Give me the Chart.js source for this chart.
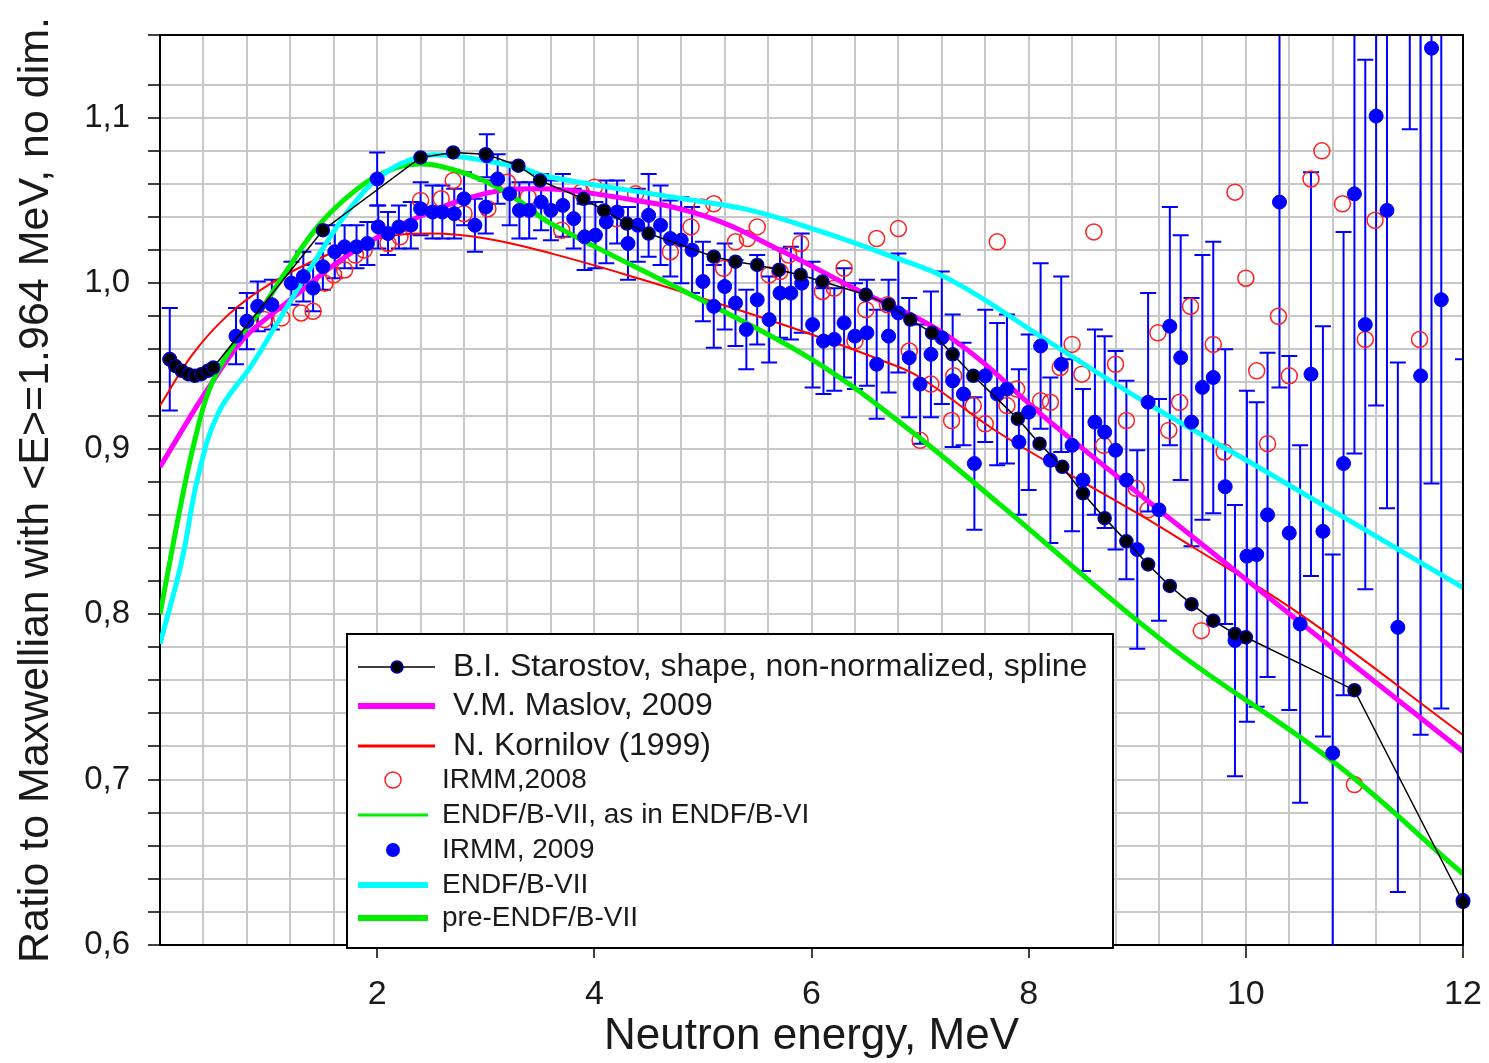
<!DOCTYPE html>
<html>
<head>
<meta charset="utf-8">
<title>Ratio to Maxwellian</title>
<script src="https://cdn.jsdelivr.net/npm/chart.js@4.4.1/dist/chart.umd.min.js"></script>
<style>
  html, body { margin: 0; padding: 0; background: #fff; }
  #chart { display: block; }
</style>
</head>
<body>
<canvas id="chart" width="1489" height="1063"></canvas>
<script>
// B.I. Starostov (black dots joined by a thin line)
const starostovE = [0.09, 0.14, 0.20, 0.26, 0.32, 0.38, 0.44, 0.49, 1.50, 2.40, 2.70, 3.00, 3.30, 3.50, 3.90, 4.09, 4.30, 4.50,
  5.10, 5.30, 5.50, 5.70, 5.90, 6.10, 6.50, 6.71, 6.91, 7.11, 7.30, 7.49, 7.90, 8.10, 8.31, 8.50, 8.70, 8.90, 9.10, 9.30,
  9.50, 9.70, 9.90, 10.00, 11.00, 12.00];
const starostovR = [0.954, 0.950, 0.947, 0.945, 0.944, 0.945, 0.947, 0.949, 1.032, 1.076, 1.079, 1.078, 1.071, 1.062, 1.051, 1.044, 1.036, 1.030,
  1.016, 1.013, 1.011, 1.008, 1.005, 1.001, 0.993, 0.987, 0.978, 0.970, 0.957, 0.944, 0.918, 0.903, 0.889, 0.873, 0.858, 0.844, 0.830, 0.817,
  0.806, 0.796, 0.788, 0.786, 0.754, 0.626];

// V.M. Maslov, 2009
const maslovE = [0, 0.4, 0.69, 0.84, 1.2, 1.6, 1.88, 2.31, 2.98, 3.5, 4.2, 5.0, 5.74, 6.36, 7.28, 8.2, 9.2, 10.5, 12];
const maslovR = [0.889, 0.932, 0.960, 0.971, 0.990, 1.011, 1.023, 1.038, 1.054, 1.057, 1.052, 1.041, 1.019, 0.998, 0.967, 0.916, 0.863, 0.795, 0.717];

// N. Kornilov (1999)
const kornilovE = [0, 0.3, 0.63, 1.0, 1.5, 2.0, 2.5, 3.0, 3.6, 4.4, 5.13, 6.0, 6.66, 7.0, 7.74, 9.0, 9.5, 10.5, 12];
const kornilovR = [0.926, 0.957, 0.981, 0.999, 1.016, 1.027, 1.030, 1.027, 1.018, 1.003, 0.988, 0.969, 0.953, 0.943, 0.909, 0.861, 0.841, 0.800, 0.727];

// IRMM, 2008 (open circles)
const irmm2008E = [0.96, 1.12, 1.30, 1.41, 1.52, 1.60, 1.70, 1.80, 1.88, 2.10, 2.21, 2.40, 2.59, 2.70, 2.80, 3.02, 3.20, 3.39, 3.70, 3.88,
  4.00, 4.20, 4.38, 4.70, 4.89, 4.99, 5.10, 5.19, 5.30, 5.41, 5.50, 5.61, 5.71, 5.79, 5.90, 6.10, 6.21, 6.30, 6.40, 6.50,
  6.60, 6.70, 6.80, 6.90, 7.00, 7.10, 7.29, 7.31, 7.49, 7.60, 7.71, 7.80, 7.89, 8.11, 8.20, 8.29, 8.40, 8.49, 8.60, 8.69,
  8.80, 8.90, 8.99, 9.10, 9.19, 9.29, 9.39, 9.49, 9.59, 9.70, 9.80, 9.90, 10.00, 10.10, 10.20, 10.30, 10.40, 10.60, 10.70, 10.89,
  11.00, 11.10, 11.19, 11.60];
const irmm2008R = [0.978, 0.979, 0.982, 0.983, 1.000, 1.005, 1.008, 1.017, 1.020, 1.024, 1.028, 1.050, 1.051, 1.062, 1.042, 1.045, 1.061, 1.052, 1.032, 1.055,
  1.058, 1.039, 1.054, 1.019, 1.034, 1.046, 1.048, 1.009, 1.025, 1.027, 1.034, 1.005, 1.007, 1.017, 1.024, 0.995, 0.997, 1.009, 0.965, 0.984,
  1.027, 0.987, 1.033, 0.959, 0.905, 0.939, 0.917, 0.944, 0.926, 0.915, 1.025, 0.926, 0.936, 0.929, 0.928, 0.949, 0.963, 0.945, 1.031, 0.902,
  0.951, 0.917, 0.876, 0.863, 0.970, 0.911, 0.928, 0.986, 0.790, 0.963, 0.898, 1.055, 1.003, 0.947, 0.903, 0.980, 0.944, 1.063, 1.080, 1.048,
  0.697, 0.966, 1.038, 0.966];

// ENDF/B-VII, as in ENDF/B-VI (thin green, lies under the thick green curve)
const endf6E = [0, 0.2, 0.32, 0.45, 0.63, 0.93, 1.15, 1.45, 1.76, 2.07, 2.38, 2.68, 2.98, 3.3, 3.6, 5.13, 6.05, 6.91, 7.74, 9.27, 10.8, 12];
const endf6R = [0.800, 0.869, 0.905, 0.935, 0.958, 0.984, 1.006, 1.034, 1.054, 1.067, 1.072, 1.069, 1.062, 1.050, 1.036, 0.985, 0.952, 0.911, 0.866, 0.782, 0.711, 0.643];

// IRMM, 2009 (filled dots with error bars)
const irmm2009E = [0.09, 0.70, 0.80, 0.90, 1.03, 1.21, 1.32, 1.41, 1.50, 1.61, 1.70, 1.81, 1.91, 2.00, 2.01, 2.10, 2.20, 2.31, 2.40, 2.51,
  2.60, 2.71, 2.80, 2.90, 3.00, 3.01, 3.11, 3.22, 3.31, 3.40, 3.51, 3.60, 3.71, 3.81, 3.91, 4.01, 4.11, 4.21, 4.31, 4.40,
  4.50, 4.61, 4.70, 4.80, 4.90, 5.00, 5.10, 5.20, 5.30, 5.40, 5.50, 5.61, 5.71, 5.81, 5.91, 6.01, 6.11, 6.21, 6.30, 6.40,
  6.51, 6.60, 6.71, 6.80, 6.90, 7.00, 7.10, 7.20, 7.30, 7.40, 7.50, 7.60, 7.71, 7.80, 7.91, 8.00, 8.11, 8.20, 8.30, 8.40,
  8.50, 8.61, 8.70, 8.80, 8.90, 9.00, 9.10, 9.20, 9.30, 9.40, 9.50, 9.60, 9.70, 9.81, 9.90, 10.01, 10.10, 10.20, 10.31, 10.40,
  10.50, 10.60, 10.71, 10.80, 10.90, 11.00, 11.10, 11.20, 11.30, 11.40, 11.51, 11.61, 11.71, 11.80, 12.00];
const irmm2009R = [0.954, 0.968, 0.977, 0.986, 0.987, 1.000, 1.004, 0.997, 1.010, 1.019, 1.022, 1.022, 1.024, 1.063, 1.034, 1.030, 1.034, 1.035, 1.045, 1.043,
  1.043, 1.042, 1.051, 1.035, 1.046, 1.077, 1.063, 1.054, 1.044, 1.044, 1.049, 1.044, 1.047, 1.039, 1.028, 1.029, 1.037, 1.043, 1.024, 1.035,
  1.041, 1.035, 1.027, 1.026, 1.020, 1.001, 0.986, 0.998, 0.988, 0.972, 0.990, 0.978, 0.994, 0.994, 1.000, 0.975, 0.965, 0.966, 0.976, 0.968,
  0.970, 0.951, 0.968, 0.982, 0.955, 0.939, 0.957, 0.967, 0.941, 0.933, 0.891, 0.944, 0.933, 0.936, 0.904, 0.922, 0.962, 0.893, 0.951, 0.902,
  0.881, 0.916, 0.910, 0.899, 0.881, 0.839, 0.928, 0.863, 0.974, 0.955, 0.916, 0.937, 0.943, 0.877, 0.784, 0.835, 0.836, 0.860, 1.049, 0.849,
  0.794, 0.945, 0.850, 0.716, 0.891, 1.054, 0.975, 1.101, 1.044, 0.792, 1.260, 0.944, 1.142, 0.990, 0.627];
const irmm2009Err = [0.031, 0.017, 0.017, 0.015, 0.015, 0.013, 0.015, 0.014, 0.014, 0.016, 0.013, 0.013, 0.013, 0.016, 0.013, 0.013, 0.013, 0.014, 0.016, 0.016,
  0.016, 0.015, 0.016, 0.016, 0.016, 0.013, 0.015, 0.019, 0.017, 0.017, 0.017, 0.018, 0.019, 0.018, 0.020, 0.020, 0.025, 0.019, 0.022, 0.022,
  0.025, 0.024, 0.023, 0.026, 0.026, 0.024, 0.025, 0.026, 0.026, 0.024, 0.027, 0.026, 0.027, 0.028, 0.030, 0.038, 0.032, 0.031, 0.033, 0.032,
  0.032, 0.033, 0.034, 0.036, 0.036, 0.036, 0.038, 0.040, 0.040, 0.031, 0.040, 0.040, 0.043, 0.045, 0.044, 0.047, 0.050, 0.050, 0.053, 0.052,
  0.055, 0.056, 0.058, 0.060, 0.060, 0.060, 0.066, 0.067, 0.072, 0.074, 0.075, 0.080, 0.082, 0.083, 0.082, 0.100, 0.092, 0.098, 0.112, 0.107,
  0.108, 0.122, 0.124, 0.120, 0.140, 0.157, 0.160, 0.175, 0.180, 0.160, 0.167, 0.217, 0.263, 0.247, 0.327];

// ENDF/B-VII (cyan)
const endf7E = [0, 0.2, 0.35, 0.54, 0.84, 1.1, 1.3, 1.51, 1.76, 2.04, 2.38, 2.68, 3.3, 3.6, 4.82, 5.44, 6.05, 6.66, 7.28, 8.2, 9.05, 10.19, 12];
const endf7R = [0.782, 0.832, 0.883, 0.922, 0.950, 0.978, 1.000, 1.022, 1.046, 1.065, 1.076, 1.077, 1.070, 1.064, 1.051, 1.044, 1.032, 1.018, 1.002, 0.964, 0.929, 0.886, 0.816];

// pre-ENDF/B-VII (thick green)
const preEndfE = [0, 0.2, 0.32, 0.45, 0.63, 0.93, 1.15, 1.45, 1.76, 2.07, 2.38, 2.68, 2.98, 3.3, 3.6, 5.13, 6.05, 6.91, 7.74, 9.27, 10.8, 12];
const preEndfR = [0.800, 0.869, 0.905, 0.935, 0.958, 0.984, 1.006, 1.034, 1.054, 1.067, 1.072, 1.069, 1.062, 1.050, 1.036, 0.985, 0.952, 0.911, 0.866, 0.782, 0.711, 0.643];

const xTickLabels = [2, 4, 6, 8, 10, 12];
const yTickLabels = ['0,6', '0,7', '0,8', '0,9', '1,0', '1,1'];
const legendLabels = [
  'B.I. Starostov, shape, non-normalized, spline',
  'V.M. Maslov, 2009',
  'N. Kornilov (1999)',
  'IRMM,2008',
  'ENDF/B-VII, as in ENDF/B-VI',
  'IRMM, 2009',
  'ENDF/B-VII',
  'pre-ENDF/B-VII'
];

const pts = (xs, ys) => xs.map((x, i) => ({ x: x, y: ys[i] }));

Chart.defaults.font.family = '"Liberation Sans", Arial, sans-serif';
Chart.defaults.color = '#1a1a1a';

const errorBars = {
  id: 'errorBars',
  beforeDatasetsDraw(chart) {
    const { ctx, chartArea: a, scales: { x, y } } = chart;
    ctx.save();
    ctx.beginPath();
    ctx.rect(a.left, a.top, a.right - a.left, a.bottom - a.top + 1);
    ctx.clip();
    ctx.strokeStyle = '#0000ff';
    ctx.lineWidth = 2;
    irmm2009E.forEach((e, i) => {
      const px = x.getPixelForValue(e);
      const top = y.getPixelForValue(irmm2009R[i] + irmm2009Err[i]);
      const bot = y.getPixelForValue(irmm2009R[i] - irmm2009Err[i]);
      ctx.beginPath();
      ctx.moveTo(px, top); ctx.lineTo(px, bot);
      ctx.moveTo(px - 8, top); ctx.lineTo(px + 8, top);
      ctx.moveTo(px - 8, bot); ctx.lineTo(px + 8, bot);
      ctx.stroke();
    });
    ctx.restore();
  }
};

const frameAndLegend = {
  id: 'frameAndLegend',
  afterDraw(chart) {
    const { ctx, chartArea: a } = chart;
    ctx.save();
    // top and right frame
    ctx.strokeStyle = '#000';
    ctx.lineWidth = 2;
    ctx.beginPath();
    ctx.moveTo(a.left, a.top); ctx.lineTo(a.right, a.top); ctx.lineTo(a.right, a.bottom);
    ctx.stroke();

    // legend box
    const bx = 347, by = 634, bw = 766, bh = 314;
    ctx.fillStyle = '#fff';
    ctx.fillRect(bx, by, bw, bh);
    ctx.lineWidth = 2;
    ctx.strokeRect(bx, by, bw, bh);

    const rows = [667, 706, 746, 780, 815, 850, 885, 918];
    const ds = chart.data.datasets;
    const line = (y, x1, x2, color, w) => {
      ctx.strokeStyle = color; ctx.lineWidth = w;
      ctx.beginPath(); ctx.moveTo(x1, y); ctx.lineTo(x2, y); ctx.stroke();
    };
    const dot = (x, y, r, fill, stroke, w) => {
      ctx.beginPath(); ctx.arc(x, y, r, 0, Math.PI * 2);
      if (fill) { ctx.fillStyle = fill; ctx.fill(); }
      if (stroke) { ctx.strokeStyle = stroke; ctx.lineWidth = w; ctx.stroke(); }
    };
    line(rows[0], 358, 435, ds[0].borderColor, 1.5);
    dot(397, rows[0], 6, ds[0].pointBackgroundColor, ds[0].pointBorderColor, 1.5);
    line(rows[1], 358, 435, ds[1].borderColor, 6);
    line(rows[2], 358, 435, ds[2].borderColor, 3);
    dot(393, rows[3], 8, null, ds[3].borderColor, 1.5);
    line(rows[4], 358, 428, ds[4].borderColor, 3);
    dot(393, rows[5], 7, ds[5].backgroundColor, null, 0);
    line(rows[6], 358, 428, ds[6].borderColor, 6);
    line(rows[7], 358, 428, ds[7].borderColor, 6);

    ctx.fillStyle = '#1a1a1a';
    ctx.textBaseline = 'middle';
    legendLabels.forEach((t, i) => {
      if (i < 3) {
        ctx.font = '32px "Liberation Sans", Arial, sans-serif';
        ctx.fillText(t, 453, rows[i]);
      } else {
        ctx.font = '28px "Liberation Sans", Arial, sans-serif';
        ctx.fillText(t, 442, rows[i]);
      }
    });
    ctx.restore();
  }
};

new Chart(document.getElementById('chart'), {
  type: 'scatter',
  data: {
    datasets: [
      {
        label: legendLabels[0], data: pts(starostovE, starostovR), showLine: true, tension: 0,
        borderColor: '#000', borderWidth: 1.5, pointRadius: 6.5,
        pointBackgroundColor: '#000', pointBorderColor: '#0000b0', pointBorderWidth: 1.5,
        order: 0, clip: 10
      },
      {
        label: legendLabels[1], data: pts(maslovE, maslovR), showLine: true, tension: 0.4,
        borderColor: '#ff00ff', borderWidth: 5, pointRadius: 0, order: 4
      },
      {
        label: legendLabels[2], data: pts(kornilovE, kornilovR), showLine: true, tension: 0.4,
        borderColor: '#ff0000', borderWidth: 2, pointRadius: 0, order: 5
      },
      {
        label: legendLabels[3], data: pts(irmm2008E, irmm2008R), showLine: false,
        borderColor: '#ff2020', backgroundColor: 'rgba(0,0,0,0)', borderWidth: 1.5, pointRadius: 8,
        order: 7, clip: 10
      },
      {
        label: legendLabels[4], data: pts(endf6E, endf6R), showLine: true, tension: 0.4,
        borderColor: '#00ee00', borderWidth: 2.5, pointRadius: 0, order: 6
      },
      {
        label: legendLabels[5], data: pts(irmm2009E, irmm2009R), showLine: false,
        backgroundColor: '#0000ff', borderColor: '#0000ff', borderWidth: 1, pointRadius: 7,
        order: 1, clip: 10
      },
      {
        label: legendLabels[6], data: pts(endf7E, endf7R), showLine: true, tension: 0.4,
        borderColor: '#00ffff', borderWidth: 5, pointRadius: 0, order: 2
      },
      {
        label: legendLabels[7], data: pts(preEndfE, preEndfR), showLine: true, tension: 0.4,
        borderColor: '#00ee00', borderWidth: 5, pointRadius: 0, order: 3
      }
    ]
  },
  options: {
    responsive: false,
    animation: false,
    devicePixelRatio: 1,
    layout: { padding: { top: 35, right: 26, left: 0, bottom: 0 } },
    plugins: { legend: { display: false }, tooltip: { enabled: false } },
    scales: {
      x: {
        type: 'linear', min: 0, max: 12,
        ticks: {
          stepSize: 0.4, autoSkip: false, maxRotation: 0, padding: 16,
          font: { size: 34 }, color: '#1a1a1a',
          callback: v => {
            const n = Math.round(v);
            return (Math.abs(v - n) < 1e-6 && xTickLabels.includes(n)) ? String(n) : '';
          }
        },
        grid: {
          color: '#c8c8c8', lineWidth: 2, tickLength: 13, tickWidth: 1.5,
          tickColor: c => {
            const v = c.tick ? c.tick.value : 0;
            const n = Math.round(v);
            return (Math.abs(v - n) < 1e-6 && xTickLabels.includes(n)) ? '#000' : 'rgba(0,0,0,0)';
          }
        },
        border: { color: '#000', width: 2 },
        title: {
          display: true, text: 'Neutron energy, MeV', color: '#1a1a1a',
          font: { size: 44 }, padding: { top: 0, bottom: 0 }
        },
        afterFit: s => { s.height = 118; s.paddingLeft = 0; s.paddingRight = 0; }
      },
      y: {
        type: 'linear', min: 0.6, max: 1.15,
        ticks: {
          stepSize: 0.02, autoSkip: false, padding: 18,
          font: { size: 33 }, color: '#1a1a1a',
          callback: v => {
            const k = (v - 0.6) * 10;
            const n = Math.round(k);
            return (Math.abs(k - n) < 1e-6 && yTickLabels[n]) ? yTickLabels[n] : '';
          }
        },
        grid: { color: '#c8c8c8', lineWidth: 2, tickLength: 12, tickWidth: 1.5, tickColor: '#000' },
        border: { color: '#000', width: 2 },
        title: {
          display: true, text: 'Ratio to Maxwellian with <E>=1.964 MeV, no dim.', color: '#1a1a1a',
          font: { size: 43 }, padding: { top: 10, bottom: 0 }
        },
        afterFit: s => { s.width = 160; s.paddingTop = 0; s.paddingBottom = 0; }
      }
    }
  },
  plugins: [errorBars, frameAndLegend]
});
</script>
</body>
</html>
